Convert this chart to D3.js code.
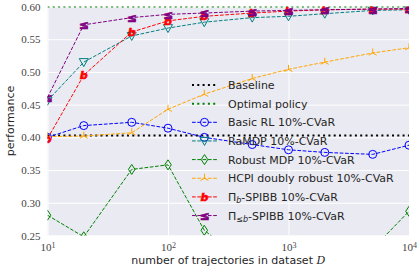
<!DOCTYPE html>
<html>
<head>
<meta charset="utf-8">
<script src="https://cdn.jsdelivr.net/npm/d3@7"></script>
<style>
  body { margin: 0; background: #fff; }
  svg { display: block; }
  .tick-lab { font-family: "Liberation Serif", "DejaVu Serif", serif; fill: #444; }
  .lab { font-family: "DejaVu Sans", sans-serif; fill: #262626; }
</style>
</head>
<body>
<div class="container"></div>
<script>
// data
var trajectories = [10, 20, 50, 100, 200, 500, 1000, 2000, 5000, 10000];
var baselinePerf = 0.403;
var optimalPerf = 0.600;
var basicRL   = [0.400, 0.418, 0.423, 0.414, 0.400, 0.389, 0.381, 0.377, 0.374, 0.388];
var raMDP     = [0.456, 0.515, 0.555, 0.567, 0.576, 0.583, 0.585, 0.589, 0.594, 0.595];
var robustMDP = [0.281, 0.248, 0.351, 0.358, 0.258, 0.200, 0.210, 0.220, 0.230, 0.287];
var hcpi      = [0.401, 0.402, 0.407, 0.443, 0.466, 0.490, 0.504, 0.515, 0.529, 0.537];
var piB       = [0.398, 0.495, 0.561, 0.578, 0.585, 0.590, 0.593, 0.595, 0.596, 0.596];
var piLeqB    = [0.461, 0.572, 0.583, 0.588, 0.590, 0.593, 0.594, 0.595, 0.596, 0.597];
var yTicks = [0.25, 0.30, 0.35, 0.40, 0.45, 0.50, 0.55, 0.60];
var xTicks = [10, 100, 1000, 10000];
var xTickExp = ["1", "2", "3", "4"];

var W = 417, H = 276;
var pLeft = 47.5, pRight = 409, pTop = 6.5, pBottom = 235.5;

var x = d3.scaleLog().domain([10, 10000]).range([pLeft, pRight]);
var y = d3.scaleLinear().domain([0.25, 0.60]).range([pBottom, pTop]);

var svg = d3.select(".container").append("svg").attr("width", W).attr("height", H);

svg.append("rect").attr("x", pLeft).attr("y", pTop)
  .attr("width", pRight - pLeft).attr("height", pBottom - pTop).attr("fill", "#EAEAF2");

svg.append("clipPath").attr("id", "plotclip").append("rect")
  .attr("x", pLeft).attr("y", pTop).attr("width", pRight - pLeft).attr("height", pBottom - pTop);

// grid
var gy = svg.append("g").attr("transform", "translate(" + pLeft + ",0)")
  .call(d3.axisLeft(y).tickValues(yTicks).tickSize(-(pRight - pLeft)).tickFormat(""));
gy.select(".domain").remove();
gy.selectAll("line").attr("stroke", "#fff").attr("stroke-width", 1);

var gx = svg.append("g").attr("transform", "translate(0," + pBottom + ")")
  .call(d3.axisBottom(x).tickValues(xTicks).tickSize(-(pBottom - pTop)).tickFormat(""));
gx.select(".domain").remove();
gx.selectAll("line").attr("stroke", "#fff").attr("stroke-width", 1);

// tick labels
var ly = svg.append("g").attr("transform", "translate(" + pLeft + ",0)")
  .call(d3.axisLeft(y).tickValues(yTicks).tickSize(0).tickPadding(7).tickFormat(d3.format(".2f")));
ly.select(".domain").remove();
ly.selectAll("text").attr("class", "tick-lab").attr("font-size", 11).attr("fill", null);

var lx = svg.append("g").attr("transform", "translate(0," + pBottom + ")")
  .call(d3.axisBottom(x).tickValues(xTicks).tickSize(0).tickPadding(8).tickFormat(function() { return "10"; }));
lx.select(".domain").remove();
lx.selectAll("text").attr("class", "tick-lab").attr("font-size", 11).attr("fill", null)
  .each(function(d, i) {
    d3.select(this).append("tspan").attr("dy", "-0.45em").attr("font-size", 8).text(xTickExp[i]);
  });

svg.append("text").attr("class", "lab").attr("font-size", 11)
  .attr("text-anchor", "middle").attr("x", (pLeft + pRight) / 2).attr("y", 264)
  .text("number of trajectories in dataset ")
  .append("tspan").attr("font-family", "DejaVu Serif, serif").attr("font-style", "italic").text("D");

svg.append("text").attr("class", "lab").attr("font-size", 11)
  .attr("text-anchor", "middle")
  .attr("transform", "translate(14," + ((pTop + pBottom) / 2) + ") rotate(-90)")
  .text("performance");

// marker drawing
function drawMarker(g, kind, color, cx, cy) {
  if (kind === "circle") {
    g.append("circle").attr("cx", cx).attr("cy", cy).attr("r", 4)
      .attr("fill", "none").attr("stroke", color).attr("stroke-width", 1);
  } else if (kind === "tridown") {
    g.append("path").attr("d", "M" + cx + "," + (cy + 4.5) + "L" + (cx - 4.5) + "," + (cy - 3.5) + "L" + (cx + 4.5) + "," + (cy - 3.5) + "Z")
      .attr("fill", "none").attr("stroke", color).attr("stroke-width", 1);
  } else if (kind === "diamond") {
    g.append("path").attr("d", "M" + cx + "," + (cy - 5) + "L" + (cx + 3.3) + "," + cy + "L" + cx + "," + (cy + 5) + "L" + (cx - 3.3) + "," + cy + "Z")
      .attr("fill", "none").attr("stroke", color).attr("stroke-width", 1);
  } else if (kind === "triup") {
    var r = 4.5;
    g.append("path").attr("d", "M" + cx + "," + cy + "L" + cx + "," + (cy - r) +
        "M" + cx + "," + cy + "L" + (cx - 0.866 * r) + "," + (cy + 0.5 * r) +
        "M" + cx + "," + cy + "L" + (cx + 0.866 * r) + "," + (cy + 0.5 * r))
      .attr("fill", "none").attr("stroke", color).attr("stroke-width", 1);
  } else if (kind === "b" || kind === "leq") {
    var fs = kind === "b" ? 11 : 12;
    g.append("text").attr("x", cx).attr("y", cy + 0.37 * fs)
      .attr("text-anchor", "middle").attr("font-family", "DejaVu Sans, sans-serif")
      .attr("font-size", fs).attr("font-style", kind === "b" ? "italic" : "normal")
      .attr("font-weight", "bold")
      .attr("fill", color).attr("stroke", color).attr("stroke-width", 0.6)
      .text(kind === "b" ? "b" : "\u2264");
  }
}

var series = [
  { name: "Basic RL 10%-CVaR", values: basicRL, color: "#0000ff", marker: "circle" },
  { name: "RaMDP 10%-CVaR", values: raMDP, color: "#008080", marker: "tridown" },
  { name: "Robust MDP 10%-CVaR", values: robustMDP, color: "#008000", marker: "diamond" },
  { name: "HCPI doubly robust 10%-CVaR", values: hcpi, color: "#ffa500", marker: "triup" },
  { name: "b", values: piB, color: "#ff0000", marker: "b" },
  { name: "leq", values: piLeqB, color: "#800080", marker: "leq" }
];

var plot = svg.append("g").attr("clip-path", "url(#plotclip)");

plot.append("line").attr("x1", pLeft).attr("x2", pRight)
  .attr("y1", y(baselinePerf)).attr("y2", y(baselinePerf))
  .attr("stroke", "#000").attr("stroke-width", 2).attr("stroke-dasharray", "2,3.3");
plot.append("line").attr("x1", pLeft).attr("x2", pRight)
  .attr("y1", y(optimalPerf)).attr("y2", y(optimalPerf))
  .attr("stroke", "#008000").attr("stroke-width", 2).attr("stroke-dasharray", "2,3.3");

var line = d3.line().x(function(d, i) { return x(trajectories[i]); }).y(function(d) { return y(d); });

series.forEach(function(s) {
  var g = plot.append("g");
  g.append("path").datum(s.values).attr("d", line)
    .attr("fill", "none").attr("stroke", s.color).attr("stroke-width", 1)
    .attr("stroke-dasharray", "3.7,1.6");
  s.values.forEach(function(v, i) { drawMarker(g, s.marker, s.color, x(trajectories[i]), y(v)); });
});

// legend
var legX = 192, legY0 = 85, legStep = 18.65;
var legend = svg.append("g");
function legendText(i) {
  return legend.append("text").attr("class", "lab").attr("font-size", 11)
    .attr("x", 228).attr("y", legY0 + i * legStep + 4);
}
[["Baseline", "#000"], ["Optimal policy", "#008000"]].forEach(function(e, i) {
  var yy = legY0 + i * legStep;
  legend.append("line").attr("x1", legX).attr("x2", legX + 25).attr("y1", yy).attr("y2", yy)
    .attr("stroke", e[1]).attr("stroke-width", 2).attr("stroke-dasharray", "2,3.3");
  legendText(i).text(e[0]);
});
series.forEach(function(s, j) {
  var i = j + 2, yy = legY0 + i * legStep;
  legend.append("line").attr("x1", legX).attr("x2", legX + 25).attr("y1", yy).attr("y2", yy)
    .attr("stroke", s.color).attr("stroke-width", 1).attr("stroke-dasharray", "3.7,1.6");
  drawMarker(legend, s.marker, s.color, legX + 12.5, yy);
  var t = legendText(i);
  if (s.marker === "b" || s.marker === "leq") {
    t.append("tspan").text("\u03A0");
    t.append("tspan").attr("font-size", 8).attr("font-style", "italic").attr("dy", 2.5)
      .text(s.marker === "b" ? "b" : "\u2264b");
    t.append("tspan").attr("dy", -2.5).text("-SPIBB 10%-CVaR");
  } else {
    t.text(s.name);
  }
});
</script>
</body>
</html>
